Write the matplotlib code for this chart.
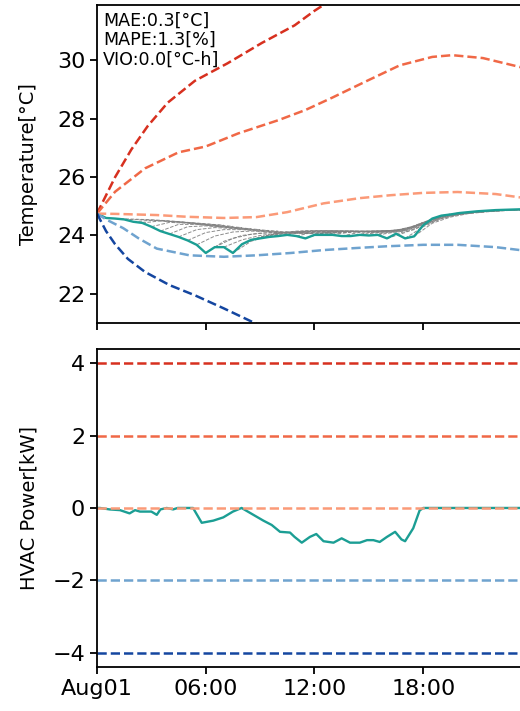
import numpy as np
import matplotlib
matplotlib.use("Agg")
import matplotlib.pyplot as plt

# === data (hours since Aug01 00:00) ===
power_levels = [4, 2, 0, -2, -4]
level_colors = ["#d7301f", "#f06846", "#fb9a78", "#6fa3cf", "#1446a0"]
teal = "#1b9e94"

# open-loop temperature predictions for each constant power level
t_p4 = [0, 1, 1.9, 2.8, 3.9, 5.4, 7.2, 9.1, 10.9, 12.0, 13.0]
T_p4 = [24.75, 26.0, 26.95, 27.75, 28.55, 29.3, 29.9, 30.6, 31.2, 31.7, 32.1]
t_p2 = [0, 1, 2.65, 4.5, 6, 7.8, 10, 11.5, 13, 14.9, 16.7, 18.5, 19.6, 21.3, 23.3, 24]
T_p2 = [24.75, 25.5, 26.3, 26.85, 27.05, 27.5, 27.95, 28.3, 28.73, 29.3, 29.83, 30.12, 30.18, 30.08, 29.78, 29.65]
t_0 = [0, 1, 3.3, 5, 7, 8.8, 10.5, 12.5, 14.5, 16.2, 18, 19.9, 22, 24]
T_0 = [24.75, 24.74, 24.7, 24.64, 24.6, 24.63, 24.8, 25.1, 25.28, 25.38, 25.46, 25.49, 25.42, 25.25]
t_m2 = [0, 0.5, 1.45, 2.3, 3.3, 5.1, 7, 8.8, 10.7, 12.5, 14.3, 16, 18, 19.9, 22, 24]
T_m2 = [24.75, 24.55, 24.25, 23.9, 23.55, 23.32, 23.27, 23.32, 23.4, 23.5, 23.57, 23.63, 23.68, 23.68, 23.6, 23.45]
t_m4 = [0, 0.5, 1, 1.7, 2.65, 4, 5.4, 7, 8.7, 10]
T_m4 = [24.75, 24.15, 23.7, 23.2, 22.75, 22.3, 21.95, 21.5, 21.0, 20.6]

# measured indoor temperature
t_meas = [0, 0.5, 1.0, 1.5, 2.0, 2.5, 3.0, 3.5, 4.0, 4.5, 5.0, 5.5, 6.0, 6.5, 7.0, 7.5,
          8.0, 8.5, 9.0, 9.5, 10.0, 10.5, 11.0, 11.5, 12.0, 12.5, 13.0, 13.5, 14.0, 14.5,
          15.0, 15.5, 16.0, 16.5, 17.0, 17.5, 18.0, 18.5, 19.0, 19.5, 20.0, 20.5, 21.0,
          21.5, 22.0, 22.5, 23.0, 23.5, 24.0]
T_meas = [24.75, 24.6, 24.58, 24.55, 24.47, 24.43, 24.3, 24.15, 24.05, 23.95, 23.83, 23.68,
          23.4, 23.6, 23.6, 23.4, 23.7, 23.85, 23.9, 23.95, 23.98, 24.02, 23.98, 23.9, 24.02,
          24.02, 24.02, 23.98, 23.98, 24.02, 24.0, 24.02, 23.9, 24.06, 23.9, 23.97, 24.35,
          24.58, 24.68, 24.72, 24.77, 24.8, 24.83, 24.85, 24.87, 24.88, 24.89, 24.9, 24.9]

# rolling model forecasts (start hour -> hourly values over 6 h)
fc_start = [1, 1.5, 2, 2.5, 3, 3.5, 4, 4.5, 5, 5.5, 6, 6.5, 7, 7.5, 8, 8.5, 9, 9.5,
            10, 10.5, 11, 11.5, 12, 12.5, 13, 13.5, 14, 14.5, 15, 15.5, 16, 16.5,
            17, 17.5, 18, 18.5, 19]
fc_vals = [
    [24.58, 24.56, 24.54, 24.50, 24.45, 24.40, 24.35],
    [24.55, 24.54, 24.51, 24.47, 24.42, 24.37, 24.31],
    [24.47, 24.52, 24.48, 24.44, 24.38, 24.32, 24.27],
    [24.43, 24.50, 24.46, 24.40, 24.34, 24.28, 24.23],
    [24.30, 24.45, 24.42, 24.36, 24.30, 24.25, 24.20],
    [24.15, 24.38, 24.38, 24.32, 24.26, 24.21, 24.17],
    [24.05, 24.30, 24.33, 24.28, 24.22, 24.18, 24.15],
    [23.95, 24.20, 24.27, 24.24, 24.19, 24.15, 24.12],
    [23.83, 24.10, 24.20, 24.20, 24.15, 24.12, 24.10],
    [23.68, 23.98, 24.12, 24.15, 24.13, 24.10, 24.08],
    [23.40, 23.80, 24.00, 24.08, 24.10, 24.08, 24.06],
    [23.60, 23.90, 24.04, 24.10, 24.10, 24.08, 24.07],
    [23.60, 23.85, 24.00, 24.08, 24.10, 24.08, 24.07],
    [23.40, 23.80, 24.00, 24.08, 24.10, 24.09, 24.08],
    [23.70, 23.95, 24.08, 24.12, 24.12, 24.10, 24.10],
    [23.85, 24.02, 24.12, 24.14, 24.13, 24.12, 24.12],
    [23.90, 24.08, 24.15, 24.16, 24.15, 24.13, 24.14],
    [23.95, 24.10, 24.16, 24.16, 24.15, 24.14, 24.15],
    [23.98, 24.12, 24.16, 24.16, 24.15, 24.14, 24.16],
    [24.02, 24.13, 24.16, 24.15, 24.14, 24.15, 24.18],
    [23.98, 24.12, 24.15, 24.15, 24.14, 24.16, 24.22],
    [23.90, 24.10, 24.14, 24.14, 24.15, 24.18, 24.32],
    [24.02, 24.14, 24.15, 24.14, 24.15, 24.22, 24.45],
    [24.02, 24.13, 24.14, 24.14, 24.17, 24.32, 24.56],
    [24.02, 24.12, 24.13, 24.14, 24.20, 24.45, 24.68],
    [23.98, 24.11, 24.12, 24.16, 24.30, 24.56, 24.74],
    [23.98, 24.10, 24.12, 24.18, 24.42, 24.66, 24.78],
    [24.02, 24.10, 24.14, 24.28, 24.55, 24.72, 24.80],
    [24.00, 24.10, 24.15, 24.40, 24.65, 24.76, 24.83],
    [24.02, 24.12, 24.25, 24.52, 24.70, 24.78, 24.84],
    [23.90, 24.10, 24.35, 24.62, 24.74, 24.80, 24.85],
    [24.06, 24.20, 24.48, 24.67, 24.77, 24.82, 24.86],
    [23.90, 24.30, 24.58, 24.72, 24.80, 24.84, 24.87],
    [23.97, 24.42, 24.63, 24.75, 24.81, 24.85, 24.88],
    [24.35, 24.62, 24.72, 24.80, 24.85, 24.87, 24.89],
    [24.58, 24.70, 24.77, 24.83, 24.86, 24.88, 24.90],
    [24.68, 24.75, 24.80, 24.85, 24.87, 24.89, 24.90],
]

# measured HVAC power
t_pow = [0, 0.17, 0.7, 1.27, 1.8, 2.1, 2.37, 3.0, 3.3, 3.5, 3.85, 4.2, 4.45, 5.3, 5.78,
         6.42, 6.97, 7.5, 7.98, 8.63, 9.18, 9.64, 10.1, 10.65, 10.9, 11.3, 11.75, 12.1,
         12.5, 13.05, 13.5, 13.96, 14.5, 14.9, 15.25, 15.6, 16.0, 16.45, 16.8, 17.0,
         17.45, 17.8, 18.0, 24.0]
P_pow = [0, 0, -0.04, -0.06, -0.15, -0.06, -0.1, -0.1, -0.19, -0.04, 0, -0.04, 0, 0,
         -0.41, -0.35, -0.26, -0.1, 0, -0.19, -0.35, -0.47, -0.66, -0.68, -0.8, -0.96,
         -0.8, -0.72, -0.92, -0.96, -0.84, -0.96, -0.96, -0.89, -0.89, -0.94, -0.8,
         -0.66, -0.87, -0.92, -0.56, -0.07, 0, 0]

metrics_txt = "MAE:0.3[°C]\nMAPE:1.3[%]\nVIO:0.0[°C-h]"
xtick_pos = [0, 6, 12, 18]
xtick_lab = ["Aug01", "06:00", "12:00", "18:00"]

plt.rcParams['axes.linewidth'] = 1.3
plt.rcParams['xtick.major.width'] = 1.3
plt.rcParams['ytick.major.width'] = 1.3
plt.rcParams['xtick.major.size'] = 5
plt.rcParams['ytick.major.size'] = 5

fig = plt.figure(figsize=(5.2, 7.11), dpi=100)
ax1 = fig.add_axes([0.1865, 0.5457, 0.8365, 0.4473])
ax2 = fig.add_axes([0.1865, 0.0619, 0.8365, 0.4473])

# === top: temperature ===
for s, v in zip(fc_start, fc_vals):
    ax1.plot(np.arange(len(v)) + s, v, color="gray", ls="--", lw=0.7, alpha=0.9)
ax1.plot(t_meas, T_meas, color=teal, lw=1.7)
for (tt, TT), c in zip([(t_p4, T_p4), (t_p2, T_p2), (t_0, T_0), (t_m2, T_m2), (t_m4, T_m4)],
                       level_colors):
    ax1.plot(tt, TT, color=c, ls="--", lw=1.8)

ax1.set_xlim(0, 24)
ax1.set_ylim(21.0, 31.9)
ax1.set_yticks([22, 24, 26, 28, 30])
ax1.set_xticks(xtick_pos)
ax1.set_xticklabels([])
ax1.tick_params(labelsize=16)
ax1.set_ylabel("Temperature[°C]", fontsize=14)
ax1.text(0.014, 0.98, metrics_txt, transform=ax1.transAxes, fontsize=12.6,
         va="top", ha="left", linespacing=1.12)

# === bottom: HVAC power ===
ax2.plot(t_pow, P_pow, color=teal, lw=1.7)
for p, c in zip(power_levels, level_colors):
    ax2.axhline(p, color=c, ls="--", lw=1.8)
ax2.set_xlim(0, 24)
ax2.set_ylim(-4.4, 4.4)
ax2.set_yticks([-4, -2, 0, 2, 4])
ax2.set_xticks(xtick_pos)
ax2.set_xticklabels(xtick_lab)
ax2.tick_params(labelsize=16)
ax2.set_ylabel("HVAC Power[kW]", fontsize=14)

ax1.yaxis.set_label_coords(-0.135, 0.5)
ax2.yaxis.set_label_coords(-0.135, 0.5)

plt.savefig("out.png", dpi=100)
plt.close()
